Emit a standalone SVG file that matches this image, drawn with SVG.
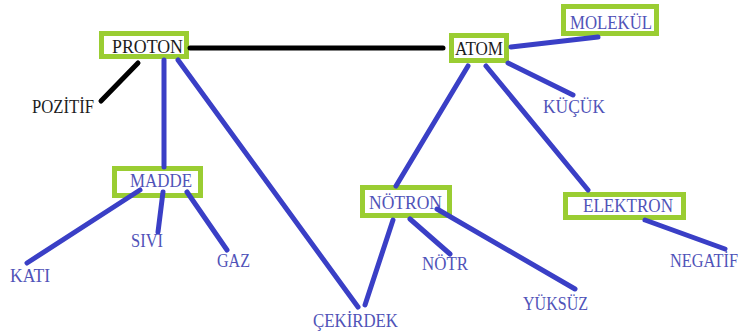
<svg xmlns="http://www.w3.org/2000/svg" width="745" height="333" viewBox="0 0 745 333">
<style>
.box{fill:#ffffff;stroke:#9acd32;stroke-width:5}
.t{font-family:"Liberation Serif","Times New Roman",serif;font-size:18px;fill:#5053b8}
.d{fill:#1c1c1c}
.b{stroke:#3a3fc6;stroke-width:5;stroke-linecap:round;fill:none}
.k{stroke:#000000;stroke-width:5;stroke-linecap:round;fill:none}
</style>
<rect width="745" height="333" fill="#ffffff"/>
<g id="proton"><rect class="box" x="101.5" y="33.5" width="85" height="23"/><text class="t d" x="112" y="53" textLength="71" lengthAdjust="spacingAndGlyphs">PROTON</text></g>
<g id="atom"><rect class="box" x="451.5" y="35.5" width="55" height="25"/><text class="t d" x="455" y="55" textLength="48" lengthAdjust="spacingAndGlyphs">ATOM</text></g>
<g id="molekul"><rect class="box" x="563.5" y="6.5" width="93" height="27"/><text class="t" x="570" y="29" textLength="82" lengthAdjust="spacingAndGlyphs">MOLEKÜL</text></g>
<g id="madde"><rect class="box" x="114.5" y="168.5" width="86" height="27"/><text class="t" x="130" y="187" textLength="62" lengthAdjust="spacingAndGlyphs">MADDE</text></g>
<g id="notron"><rect class="box" x="362.5" y="187.5" width="87" height="28"/><text class="t" x="369" y="209" textLength="73" lengthAdjust="spacingAndGlyphs">NÖTRON</text></g>
<g id="elektron"><rect class="box" x="565.5" y="194.5" width="118" height="23"/><text class="t" x="583" y="212" textLength="90" lengthAdjust="spacingAndGlyphs">ELEKTRON</text></g>
<g id="pozitif"><text class="t d" x="32" y="113" textLength="62" lengthAdjust="spacingAndGlyphs">POZİTİF</text></g>
<g id="kucuk"><text class="t" x="543" y="113" textLength="62" lengthAdjust="spacingAndGlyphs">KÜÇÜK</text></g>
<g id="sivi"><text class="t" x="131" y="247" textLength="32" lengthAdjust="spacingAndGlyphs">SIVI</text></g>
<g id="kati"><text class="t" x="10" y="282" textLength="40" lengthAdjust="spacingAndGlyphs">KATI</text></g>
<g id="gaz"><text class="t" x="217" y="267" textLength="33" lengthAdjust="spacingAndGlyphs">GAZ</text></g>
<g id="cekirdek"><text class="t" x="313" y="327" textLength="85" lengthAdjust="spacingAndGlyphs">ÇEKİRDEK</text></g>
<g id="notr"><text class="t" x="422" y="270" textLength="46" lengthAdjust="spacingAndGlyphs">NÖTR</text></g>
<g id="yuksuz"><text class="t" x="523" y="310" textLength="65" lengthAdjust="spacingAndGlyphs">YÜKSÜZ</text></g>
<g id="negatif"><text class="t" x="670" y="267" textLength="68" lengthAdjust="spacingAndGlyphs">NEGATİF</text></g>
<g id="connectors">
<line class="k" x1="190" y1="48" x2="443" y2="48"/>
<line class="k" x1="138" y1="63" x2="101" y2="101"/>
<line class="b" x1="164" y1="60" x2="164" y2="167"/>
<line class="b" x1="178" y1="60" x2="358" y2="307"/>
<line class="b" x1="511" y1="47" x2="598" y2="37"/>
<line class="b" x1="508" y1="63" x2="573" y2="95"/>
<line class="b" x1="468" y1="66" x2="396" y2="186"/>
<line class="b" x1="486" y1="66" x2="588" y2="190"/>
<line class="b" x1="140" y1="190" x2="27" y2="263"/>
<line class="b" x1="163" y1="192" x2="158" y2="232"/>
<line class="b" x1="187" y1="192" x2="227" y2="250"/>
<line class="b" x1="393" y1="220" x2="365" y2="305"/>
<line class="b" x1="410" y1="219" x2="450" y2="254"/>
<line class="b" x1="437" y1="209" x2="575" y2="289"/>
<line class="b" x1="645" y1="220" x2="725" y2="249"/>
</g>
</svg>
